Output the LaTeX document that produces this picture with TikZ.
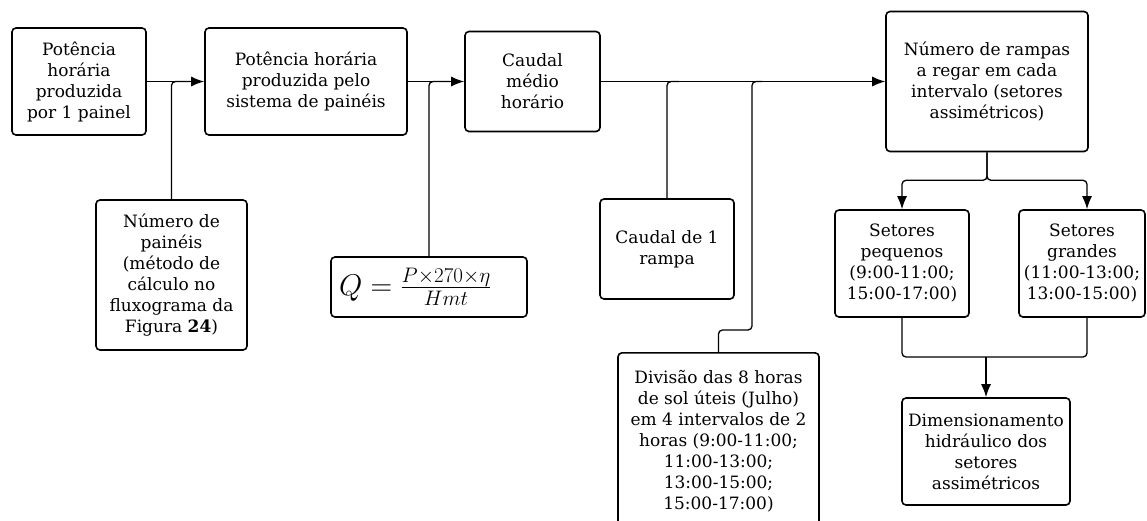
\RequirePackage{fix-cm}
\documentclass[tikz,border=0pt]{standalone}
\usepackage{fontspec}
\setmainfont{DejaVu Serif}
\usepackage{tikz}
\usetikzlibrary{arrows.meta,calc,positioning}

\begin{document}
\begin{tikzpicture}[x=1pt,y=-1pt,>={Latex[length=13pt,width=10pt]},
	box/.style={draw,line width=1.6pt,rounded corners=4pt,align=center,inner sep=3pt,
		font=\fontsize{17}{21}\selectfont},
	conn/.style={line width=1.3pt,rounded corners=4pt}]
\useasboundingbox (0,0) rectangle (1147,520);
\clip (0,0) rectangle (1147,520);

\node[box,minimum width=134,minimum height=107](pot1) at (79,81.5)
	{Potência\\horária\\produzida\\por 1 painel};
\node[box,minimum width=202,minimum height=107](potsis) at (306,81.5)
	{Potência horária\\produzida pelo\\sistema de painéis};
\node[box,minimum width=151,minimum height=150](npain) at (171.5,275)
	{Número de\\painéis\\(método de\\cálculo no\\fluxograma da\\Figura \textbf{24})};
\node[box,minimum width=135,minimum height=100](caudal) at (532.5,81.5)
	{Caudal\\médio\\horário};
\node[box,minimum width=196,minimum height=60,align=left,text width=180,inner sep=8pt,
	font=\fontsize{30}{36}\selectfont](formula) at (429,287)
	{$Q=\frac{P{\times}270{\times}\eta}{Hmt}$};
\node[box,minimum width=134,minimum height=100](caudal1) at (667,249)
	{Caudal de 1\\rampa};
\node[box,minimum width=202,minimum height=140](nramp) at (987,81.5)
	{Número de rampas\\a regar em cada\\intervalo (setores\\assimétricos)};
\node[box,minimum width=201,inner ysep=17pt,anchor=north](divis) at (718.5,352)
	{Divisão das 8 horas\\de sol úteis (Julho)\\em 4 intervalos de 2\\horas (9:00-11:00;\\11:00-13:00;\\13:00-15:00;\\15:00-17:00)};
\node[box,minimum width=134,minimum height=107](peq) at (902,263.5)
	{Setores\\pequenos\\(9:00-11:00;\\15:00-17:00)};
\node[box,minimum width=126,minimum height=107](gra) at (1082,263.5)
	{Setores\\grandes\\(11:00-13:00;\\13:00-15:00)};
\node[box,minimum width=168,minimum height=107](dim) at (986,451.5)
	{Dimensionamento\\hidráulico dos\\setores\\assimétricos};

\coordinate (jdiv) at (752,81.5);
\coordinate (jset) at (986,357);

\draw[conn,->](pot1.east) -- (potsis.west);
\draw[conn](npain.north) |- ([xshift=-14]potsis.west);
\draw[conn,->](potsis.east) -- (caudal.west);
\draw[conn](formula.north) |- ([xshift=-14]caudal.west);
\draw[conn,->](caudal.east) -- (nramp.west);
\draw[conn](caudal1.north) |- ([xshift=12]caudal1.north |- caudal.east);
\draw[conn](divis.north) -- ++(0,-22) -| (jdiv) -- ++(10,0);
\draw[conn,->](nramp.south) -- ++(0,28) -| (peq.north);
\draw[conn,->](nramp.south) -- ++(0,28) -| ([xshift=5]gra.north);
\draw[conn](peq.south) |- (jset) -| ([xshift=5]gra.south);
\draw[conn,->](jset) -- (dim.north);
\end{tikzpicture}
\end{document}
